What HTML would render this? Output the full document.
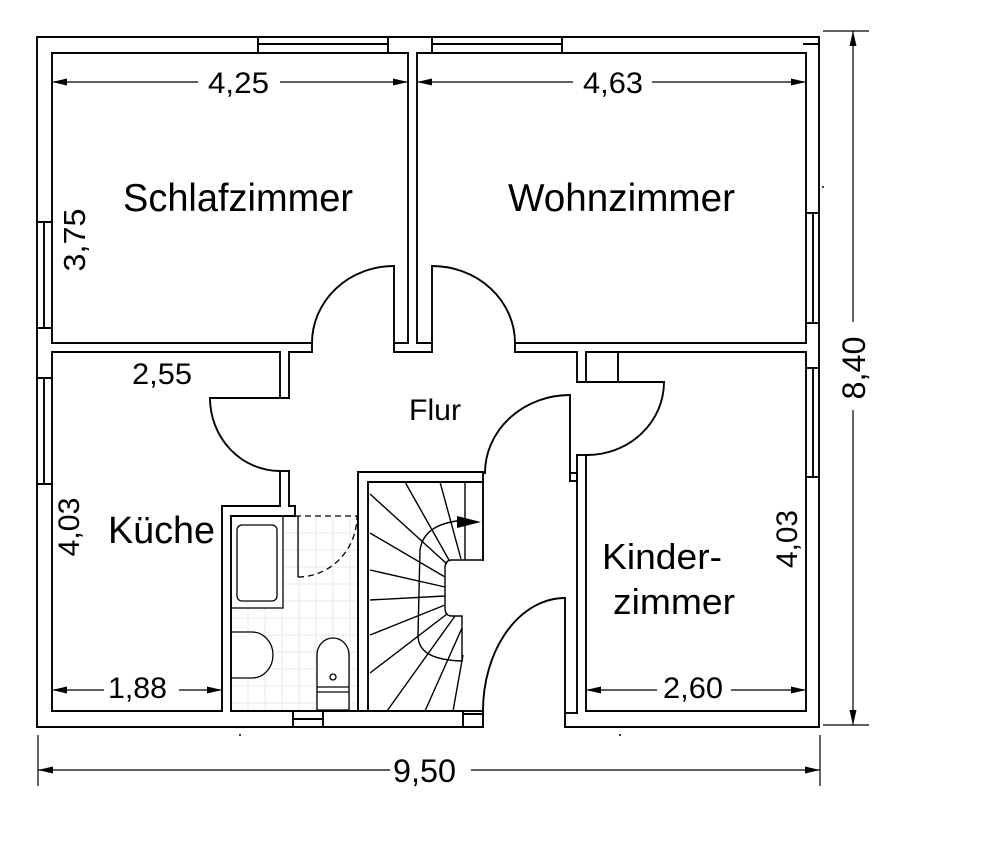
<!DOCTYPE html>
<html><head><meta charset="utf-8"><style>
html,body{margin:0;padding:0;background:#fff;}
svg{display:block;}
text{font-family:"Liberation Sans",Arial,sans-serif;fill:#000;}
</style></head><body>
<svg width="1000" height="853" viewBox="0 0 1000 853" xmlns="http://www.w3.org/2000/svg">
<rect width="1000" height="853" fill="#fff"/>
<!-- bath tile grid -->
<g stroke="#e9e9e9" stroke-width="1">
<line x1="248" y1="516" x2="248" y2="710"/><line x1="265" y1="516" x2="265" y2="710"/><line x1="282" y1="516" x2="282" y2="710"/><line x1="299" y1="516" x2="299" y2="710"/><line x1="316" y1="516" x2="316" y2="710"/><line x1="333" y1="516" x2="333" y2="710"/><line x1="350" y1="516" x2="350" y2="710"/>
<line x1="231" y1="533" x2="357" y2="533"/><line x1="231" y1="550" x2="357" y2="550"/><line x1="231" y1="567" x2="357" y2="567"/><line x1="231" y1="584" x2="357" y2="584"/><line x1="231" y1="601" x2="357" y2="601"/><line x1="231" y1="618" x2="357" y2="618"/><line x1="231" y1="635" x2="357" y2="635"/><line x1="231" y1="652" x2="357" y2="652"/><line x1="231" y1="669" x2="357" y2="669"/><line x1="231" y1="686" x2="357" y2="686"/><line x1="231" y1="703" x2="357" y2="703"/>
</g>
<g fill="#fff" stroke="#000" stroke-width="1.3">
<rect x="231" y="516" width="52" height="92"/>
<rect x="237" y="525" width="40" height="76" rx="5"/>
<path d="M231,632 H252 A21,23 0 0 1 252,678 H231 Z"/>
<path d="M317,710 V655 A16,17 0 0 1 349,655 V710 Z"/>
</g>
<g stroke="#000" stroke-width="1.3" fill="none">
<line x1="317" y1="687" x2="349" y2="687"/><line x1="317" y1="692" x2="349" y2="692"/>
<circle cx="333" cy="677" r="3"/>
<line x1="298" y1="516" x2="298" y2="577"/>
<path d="M298,577 A59,61 0 0 0 357,516" stroke-dasharray="6,4"/>
<line x1="295" y1="516" x2="357" y2="516" stroke-dasharray="6,4"/>
</g>
<!-- walls -->
<g stroke="#000" stroke-width="1.9" fill="none" stroke-linecap="square">
<!-- outer -->
<path d="M483,727 H37 V37 H819 V727 H565 V598"/>
<!-- top windows -->
<line x1="258" y1="37" x2="258" y2="53"/><line x1="388" y1="37" x2="388" y2="53"/>
<line x1="258" y1="44" x2="388" y2="44"/><line x1="258" y1="53" x2="388" y2="53"/>
<line x1="52" y1="53" x2="258" y2="53"/>
<line x1="388" y1="53" x2="408" y2="53"/><line x1="408" y1="53" x2="408" y2="343"/>
<line x1="417" y1="53" x2="417" y2="343"/><line x1="417" y1="53" x2="432" y2="53"/>
<line x1="432" y1="37" x2="432" y2="53"/><line x1="562" y1="37" x2="562" y2="53"/>
<line x1="432" y1="44" x2="562" y2="44"/><line x1="432" y1="53" x2="562" y2="53"/>
<line x1="562" y1="53" x2="806" y2="53"/>
<line x1="804" y1="44" x2="819" y2="44"/>
<!-- right inner + windows -->
<line x1="806" y1="53" x2="806" y2="343"/><line x1="806" y1="352" x2="806" y2="711"/>
<line x1="806" y1="213" x2="819" y2="213"/><line x1="806" y1="323" x2="819" y2="323"/><line x1="813" y1="213" x2="813" y2="323"/>
<line x1="806" y1="368" x2="819" y2="368"/><line x1="806" y1="477" x2="819" y2="477"/><line x1="813" y1="368" x2="813" y2="477"/>
<!-- left inner + windows -->
<line x1="52" y1="53" x2="52" y2="343"/><line x1="52" y1="352" x2="52" y2="711"/>
<line x1="37" y1="222" x2="52" y2="222"/><line x1="37" y1="328" x2="52" y2="328"/><line x1="44" y1="222" x2="44" y2="328"/>
<line x1="37" y1="378" x2="52" y2="378"/><line x1="37" y1="484" x2="52" y2="484"/><line x1="44" y1="378" x2="44" y2="484"/>
<!-- Schlafzimmer / Kueche wall -->
<line x1="52" y1="343" x2="312" y2="343"/><line x1="52" y1="352" x2="280" y2="352"/>
<line x1="312" y1="343" x2="312" y2="352"/><line x1="289" y1="352" x2="312" y2="352"/>
<line x1="280" y1="352" x2="280" y2="398"/><line x1="289" y1="352" x2="289" y2="398"/>
<line x1="210" y1="398" x2="289" y2="398"/>
<path d="M210,398 A70,73 0 0 0 280,471"/>
<line x1="280" y1="471" x2="289" y2="471"/>
<line x1="280" y1="471" x2="280" y2="506"/><line x1="289" y1="471" x2="289" y2="506"/>
<line x1="222" y1="506" x2="280" y2="506"/><line x1="289" y1="506" x2="295" y2="506"/>
<line x1="295" y1="506" x2="295" y2="516"/>
<!-- Kueche / bath -->
<line x1="222" y1="506" x2="222" y2="711"/><line x1="52" y1="711" x2="222" y2="711"/>
<line x1="231" y1="516" x2="231" y2="711"/><line x1="231" y1="516" x2="295" y2="516"/>
<line x1="231" y1="711" x2="463" y2="711"/>
<line x1="293" y1="711" x2="293" y2="727"/><line x1="323" y1="711" x2="323" y2="727"/><line x1="293" y1="719" x2="323" y2="719"/>
<!-- stair enclosure -->
<line x1="358" y1="472" x2="358" y2="711"/><line x1="368" y1="482" x2="368" y2="711"/>
<line x1="358" y1="472" x2="483" y2="472"/><line x1="368" y1="482" x2="483" y2="482"/>
<line x1="483" y1="472" x2="483" y2="560"/>
<rect x="463" y="711" width="20" height="16"/><line x1="463" y1="714" x2="483" y2="714"/>
<!-- top doors -->
<path d="M312,343 A82,77 0 0 1 394,266"/>
<line x1="394" y1="266" x2="394" y2="352"/>
<line x1="394" y1="343" x2="408" y2="343"/><line x1="417" y1="343" x2="432" y2="343"/>
<line x1="394" y1="352" x2="432" y2="352"/>
<line x1="432" y1="266" x2="432" y2="352"/>
<path d="M432,266 A83,77 0 0 1 515,343"/>
<line x1="515" y1="343" x2="806" y2="343"/><line x1="515" y1="352" x2="577" y2="352"/>
<line x1="515" y1="343" x2="515" y2="352"/><line x1="586" y1="352" x2="806" y2="352"/>
<!-- Kinderzimmer door -->
<line x1="577" y1="352" x2="577" y2="382"/><line x1="586" y1="352" x2="586" y2="382"/><line x1="618" y1="352" x2="618" y2="382"/>
<line x1="577" y1="382" x2="664" y2="382"/>
<path d="M664,382 A77,73 0 0 1 587,455"/>
<line x1="577" y1="455" x2="587" y2="455"/>
<line x1="577" y1="455" x2="577" y2="713"/><line x1="586" y1="455" x2="586" y2="711"/>
<line x1="565" y1="713" x2="577" y2="713"/><line x1="586" y1="711" x2="806" y2="711"/>
<!-- flur door -->
<path d="M570,395 A85,78 0 0 0 485,473"/>
<line x1="570" y1="395" x2="570" y2="481"/>
<rect x="570" y="473" width="7" height="8"/>
<!-- entrance door -->
<path d="M483,711 A82,113 0 0 1 565,598"/>
</g>
<!-- stairs -->
<g stroke="#000" stroke-width="1.4" fill="none">
<line x1="465" y1="482" x2="465" y2="560"/>
<path d="M483,560 H452 Q445,560 445,568 V608 Q445,616 452,616 H462 V661"/>
<line x1="405" y1="482" x2="449" y2="560"/>
<line x1="440" y1="482" x2="461" y2="559"/>
<line x1="370" y1="494" x2="447" y2="564"/>
<line x1="370" y1="533" x2="445" y2="577"/>
<line x1="370" y1="570" x2="445" y2="587"/>
<line x1="370" y1="600" x2="445" y2="596"/>
<line x1="370" y1="635" x2="445" y2="605"/>
<line x1="370" y1="673" x2="447" y2="614"/>
<line x1="387" y1="711" x2="455" y2="616"/>
<line x1="425" y1="711" x2="462" y2="628"/>
<line x1="453" y1="711" x2="463" y2="655"/>
<path d="M465,520 C440,522 423,530 420,550 L418,635 C418,652 432,660 462,661"/>
</g>
<polygon points="457,516 481,522 457,528" fill="#000"/>
<!-- dimension lines -->
<g stroke="#000" stroke-width="1.2" fill="none">
<line x1="52" y1="82" x2="198" y2="82"/><line x1="280" y1="82" x2="408" y2="82"/>
<line x1="417" y1="82" x2="573" y2="82"/><line x1="652" y1="82" x2="806" y2="82"/>
<line x1="52" y1="690" x2="104" y2="690"/><line x1="179" y1="690" x2="222" y2="690"/>
<line x1="586" y1="690" x2="657" y2="690"/><line x1="731" y1="690" x2="806" y2="690"/>
<line x1="38" y1="770" x2="390" y2="770"/><line x1="471" y1="770" x2="820" y2="770"/>
<line x1="38" y1="735" x2="38" y2="786"/><line x1="820" y1="735" x2="820" y2="786"/>
<line x1="853" y1="31" x2="853" y2="322"/><line x1="853" y1="410" x2="853" y2="725"/>
<line x1="823" y1="31" x2="869" y2="31"/><line x1="823" y1="725" x2="869" y2="725"/>
</g>
<g fill="#000">
<polygon points="52,82 67,78.5 67,85.5"/><polygon points="408,82 393,78.5 393,85.5"/>
<polygon points="417,82 432,78.5 432,85.5"/><polygon points="806,82 791,78.5 791,85.5"/>
<polygon points="52,690 67,686.5 67,693.5"/><polygon points="222,690 207,686.5 207,693.5"/>
<polygon points="586,690 601,686.5 601,693.5"/><polygon points="806,690 791,686.5 791,693.5"/>
<polygon points="38,770 53,766.5 53,773.5"/><polygon points="820,770 805,766.5 805,773.5"/>
<polygon points="853,31 849.5,46 856.5,46"/><polygon points="853,725 849.5,710 856.5,710"/>
<circle cx="240" cy="735" r="1"/><circle cx="620" cy="735" r="1"/><circle cx="823" cy="187" r="1"/>
</g>
<!-- labels -->
<text x="208" y="93" font-size="30" textLength="61" lengthAdjust="spacingAndGlyphs">4,25</text>
<text x="583" y="93" font-size="30" textLength="60" lengthAdjust="spacingAndGlyphs">4,63</text>
<text x="123" y="211" font-size="39" textLength="230" lengthAdjust="spacingAndGlyphs">Schlafzimmer</text>
<text x="508" y="211" font-size="39" textLength="227" lengthAdjust="spacingAndGlyphs">Wohnzimmer</text>
<text transform="translate(85,240) rotate(-90)" text-anchor="middle" font-size="31" textLength="63" lengthAdjust="spacingAndGlyphs">3,75</text>
<text x="132" y="384" font-size="30" textLength="60" lengthAdjust="spacingAndGlyphs">2,55</text>
<text x="409" y="420" font-size="30" textLength="52" lengthAdjust="spacingAndGlyphs">Flur</text>
<text x="108" y="543" font-size="38" textLength="107" lengthAdjust="spacingAndGlyphs">Küche</text>
<text transform="translate(79,527) rotate(-90)" text-anchor="middle" font-size="30" textLength="59" lengthAdjust="spacingAndGlyphs">4,03</text>
<text transform="translate(797,539) rotate(-90)" text-anchor="middle" font-size="30" textLength="58" lengthAdjust="spacingAndGlyphs">4,03</text>
<text transform="translate(865,368) rotate(-90)" text-anchor="middle" font-size="32" textLength="63" lengthAdjust="spacingAndGlyphs">8,40</text>
<text x="602" y="569" font-size="36" textLength="120" lengthAdjust="spacingAndGlyphs">Kinder-</text>
<text x="613" y="614" font-size="36" textLength="122" lengthAdjust="spacingAndGlyphs">zimmer</text>
<text x="108" y="698" font-size="30" textLength="59" lengthAdjust="spacingAndGlyphs">1,88</text>
<text x="663" y="698" font-size="30" textLength="60" lengthAdjust="spacingAndGlyphs">2,60</text>
<text x="393" y="782" font-size="32" textLength="63" lengthAdjust="spacingAndGlyphs">9,50</text>
</svg>
</body></html>
